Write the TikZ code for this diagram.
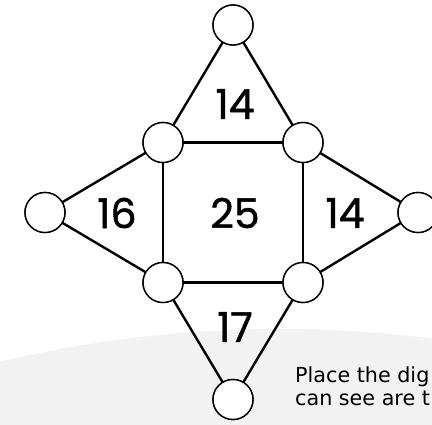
\documentclass[tikz,border=0pt]{standalone}
\usepackage{fontspec}
\setmainfont{DejaVu Sans}
\newfontfamily\digitfont{Poppins}[FakeBold=1.2]
\usetikzlibrary{positioning}
\definecolor{paper}{HTML}{F2F2F2}

\begin{document}
\begin{tikzpicture}[x=1pt,y=-1pt,
	spot/.style={circle,draw=black,line width=1.4pt,fill=white,minimum size=40pt,inner sep=0pt},
	link/.style={draw=black,line width=2.4pt},
	total/.style={font=\digitfont\fontsize{41}{41}\selectfont,inner sep=0pt},
	remark/.style={font=\fontsize{20.7}{23}\selectfont,inner sep=0pt}]
	
	\useasboundingbox (0,0) rectangle (432,424);
	\clip (0,0) rectangle (432,424);
	\fill[paper] (280,1533) circle (1204);
	
	% the eight places
	\node[spot] (top) at (233,25) {};
	\node[spot] (nw) at (163,142.5) {};
	\node[spot] (ne) at (303,142.5) {};
	\node[spot] (west) at (45,212.5) {};
	\node[spot] (east) at (418,212.5) {};
	\node[spot] (sw) at (163,282.5) {};
	\node[spot] (se) at (303,282.5) {};
	\node[spot] (bottom) at (233,399.5) {};
	
	% the sums
	\node[total] (sumtop) at (235,104) {14};
	\node[total] (sumwest) at (117,213) {16};
	\node[total] (summid) at (235,213) {25};
	\node[total] (sumeast) at (345,213) {14};
	\node[total] (sumbottom) at (235,327) {17};
	
	\node[remark,anchor=base west] (noteone) at (295,382) {Place the dig};
	\node[remark,anchor=base west] (notetwo) at (295,405) {can see are t};
	
	% lines, then circles again on top
	\foreach \a/\b in {top/nw,top/ne,nw/ne,nw/sw,ne/se,sw/se,west/nw,west/sw,east/ne,east/se,bottom/sw,bottom/se}
	\draw[link] (\a.center) -- (\b.center);
	\foreach \p in {top,nw,ne,west,east,sw,se,bottom}
	\node[spot] at (\p) {};
	
\end{tikzpicture}
\end{document}
